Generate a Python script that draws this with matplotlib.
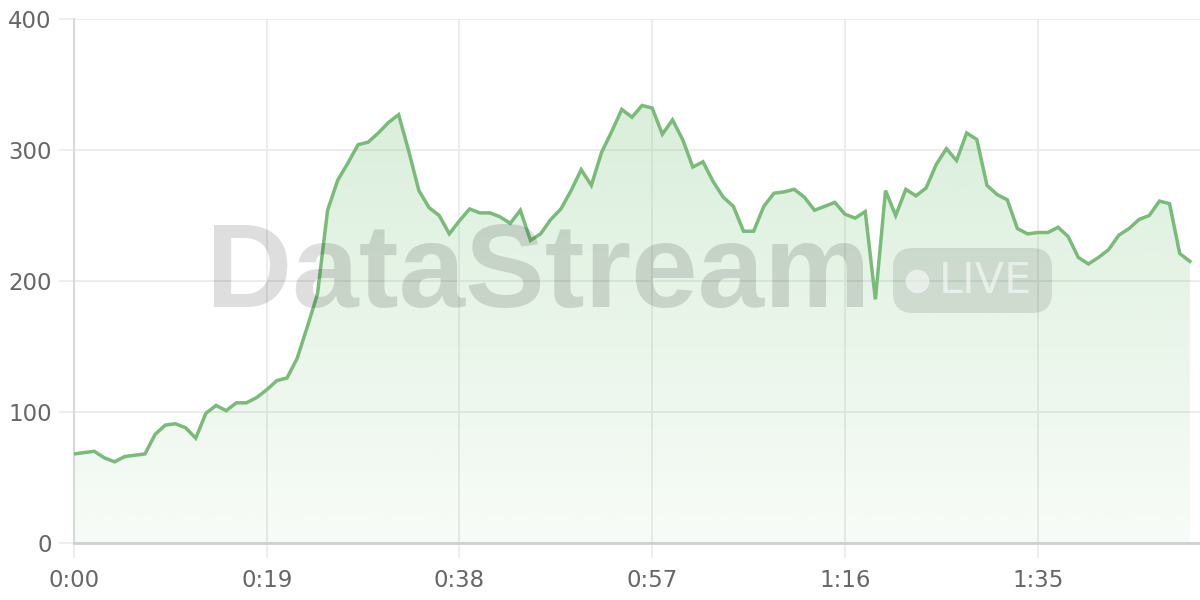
"""Live stream line chart with gradient fill and watermark."""

import matplotlib

matplotlib.use("Agg")
import matplotlib.pyplot as plt
import numpy as np
from matplotlib.colors import to_rgb
from matplotlib.patches import FancyBboxPatch
from matplotlib.transforms import IdentityTransform

# one sample per second
VALUES = [
    68, 69, 70, 65, 62, 66, 67, 68, 83, 90,
    91, 88, 80, 99, 105, 101, 107, 107, 111, 117,
    124, 126, 141, 165, 190, 254, 277, 290, 304, 306,
    313, 321, 327, 299, 269, 256, 250, 236, 246, 255,
    252, 252, 249, 244, 254, 231, 236, 247, 255, 269,
    285, 273, 298, 314, 331, 325, 334, 332, 312, 323,
    308, 287, 291, 276, 264, 257, 238, 238, 257, 267,
    268, 270, 264, 254, 257, 260, 251, 248, 253, 186,
    269, 250, 270, 265, 271, 289, 301, 292, 313, 308,
    273, 266, 262, 240, 236, 237, 237, 241, 234, 218,
    213, 218, 224, 235, 240, 247, 250, 261, 259, 221,
    215,
]
SECONDS = list(range(len(VALUES)))
X_TICKS = [0, 19, 38, 57, 76, 95]
Y_TICKS = [0, 100, 200, 300, 400]

LINE_COLOR = "#78bc78"
FILL_COLOR = "#81c784"
GRID_COLOR = "#ebebeb"
LABEL_COLOR = "#666666"


def _fmt_time(sec):
    return f"{sec // 60}:{sec % 60:02d}"


fig = plt.figure(figsize=(12, 6), dpi=100)
ax = fig.add_axes([74 / 1200, 57 / 600, 1126 / 1200, 524 / 600])

ax.set_xlim(0, 111)
ax.set_ylim(0, 400)

# gradient fill under the line
fill = ax.fill_between(SECONDS, VALUES, 0, facecolor="none", edgecolor="none")
rgb = to_rgb(FILL_COLOR)
grad = np.zeros((256, 1, 4))
grad[:, 0, :3] = rgb
grad[:, 0, 3] = np.linspace(0.34, 0.06, 256)
img = ax.imshow(grad, extent=[0, 111, 0, 400], origin="upper", aspect="auto", zorder=1)
img.set_clip_path(fill.get_paths()[0], transform=ax.transData)

ax.plot(SECONDS, VALUES, color=LINE_COLOR, linewidth=2.5, solid_joinstyle="miter", zorder=3)

ax.set_xticks(X_TICKS)
ax.set_xticklabels([_fmt_time(t) for t in X_TICKS])
ax.set_yticks(Y_TICKS)
ax.grid(True, color=GRID_COLOR, linewidth=1.3, zorder=0)
ax.set_axisbelow(True)
ax.tick_params(axis="both", length=11, width=1.2, color=GRID_COLOR,
               labelsize=16.5, labelcolor=LABEL_COLOR)
ax.tick_params(axis="x", pad=8)
ax.tick_params(axis="y", pad=5)

for side in ("top", "right"):
    ax.spines[side].set_visible(False)
ax.spines["left"].set_color("#d9d9d9")
ax.spines["left"].set_linewidth(1.5)
ax.spines["bottom"].set_color("#cfcfcf")
ax.spines["bottom"].set_linewidth(2)

# watermark (placed in pixel units, figure is 1200x600 at 100 dpi)
ax.text(0.412, 0.45, "DataStream", transform=ax.transAxes, ha="center", va="baseline",
        fontsize=86, fontweight="bold", family=["Liberation Sans", "DejaVu Sans"],
        color="black", alpha=0.13, zorder=4)
badge = FancyBboxPatch((893, 287), 159, 65, transform=IdentityTransform(),
                       boxstyle="round,pad=0,rounding_size=20",
                       facecolor="black", edgecolor="none", alpha=0.1, zorder=4)
ax.add_artist(badge)
ax.plot([(917 - 74) / 1126], [(543 - 281) / 524], "o", transform=ax.transAxes,
        markersize=17, color="white", alpha=0.55, markeredgewidth=0, zorder=5)
ax.text(0.768, 0.5, "LIVE", transform=ax.transAxes, ha="left", va="center",
        fontsize=31, family=["DejaVu Sans"], color="white", alpha=0.55, zorder=5)

fig.savefig("out.png", dpi=100)
